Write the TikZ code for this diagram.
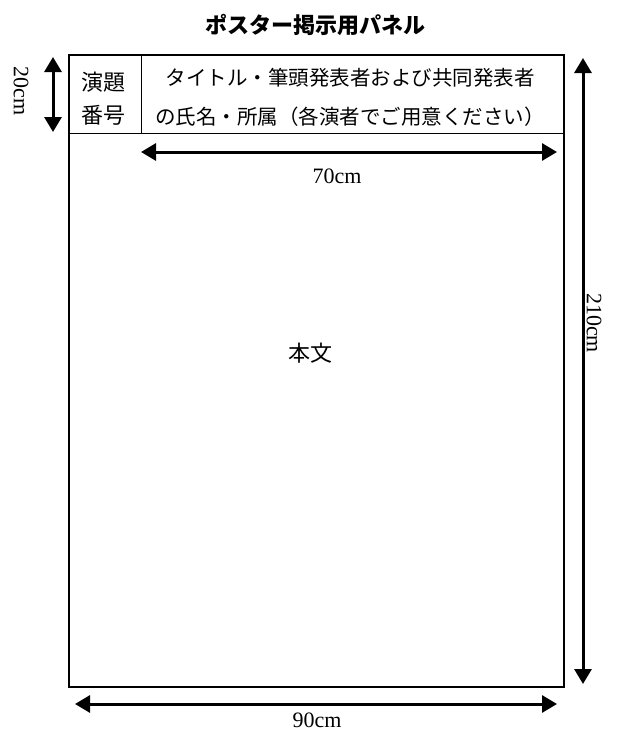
\documentclass[tikz,border=0pt]{standalone}
\usepackage{fontspec}
\setmainfont{Liberation Serif}
\newfontfamily\jpfont{Noto Sans CJK JP}
\usetikzlibrary{arrows.meta}
\tikzset{
  dimarrow/.style={line width=3pt, {Triangle[width=17pt,length=15pt]}-{Triangle[width=17pt,length=15pt]}},
  dimlabel/.style={font=\fontsize{22}{24}\selectfont, inner sep=0pt},
  jptext/.style={font=\jpfont\fontsize{20.5}{23}\selectfont, inner sep=0pt},
}
\begin{document}
\begin{tikzpicture}[x=1pt, y=-1pt]
  \useasboundingbox (0,0) rectangle (622,731);
  % panel outline
  \coordinate (tl) at (69,55);
  \coordinate (br) at (564,687);
  \draw [line width=2pt] (tl) rectangle (br);
  % header rows
  \coordinate (hl) at (69,133);
  \coordinate (hr) at (564,133);
  \coordinate (dt) at (141,55);
  \coordinate (db) at (141,133);
  \draw [line width=1pt] (hl) -- (hr);
  \draw [line width=1pt] (dt) -- (db);
  % texts
  \node [jptext, font=\jpfont\bfseries\fontsize{22}{24}\selectfont] (title) at (315,25) {ポスター掲示用パネル};
  \node [jptext, font=\jpfont\fontsize{22}{24}\selectfont] (num1) at (103,82) {演題};
  \node [jptext, font=\jpfont\fontsize{22}{24}\selectfont] (num2) at (103,115) {番号};
  \node [jptext] (head1) at (350,78) {タイトル・筆頭発表者および共同発表者};
  \node [jptext] (head2) at (350,117) {の氏名・所属（各演者でご用意ください）};
  \node [jptext, font=\jpfont\fontsize{22}{24}\selectfont] (body) at (310,353) {本文};
  % dimensions
  \coordinate (a20t) at (53,57);
  \coordinate (a20b) at (53,132);
  \draw [dimarrow] (a20t) -- (a20b);
  \node [dimlabel, rotate=-90] (l20) at (21,91) {20cm};
  \coordinate (a70l) at (141,152);
  \coordinate (a70r) at (557,152);
  \draw [dimarrow] (a70l) -- (a70r);
  \node [dimlabel] (l70) at (337,176) {70cm};
  \coordinate (a210t) at (583,58);
  \coordinate (a210b) at (583,684);
  \draw [dimarrow] (a210t) -- (a210b);
  \node [dimlabel, rotate=-90] (l210) at (594,323) {210cm};
  \coordinate (a90l) at (75,704);
  \coordinate (a90r) at (557,704);
  \draw [dimarrow] (a90l) -- (a90r);
  \node [dimlabel] (l90) at (317,720) {90cm};
\end{tikzpicture}
\end{document}
